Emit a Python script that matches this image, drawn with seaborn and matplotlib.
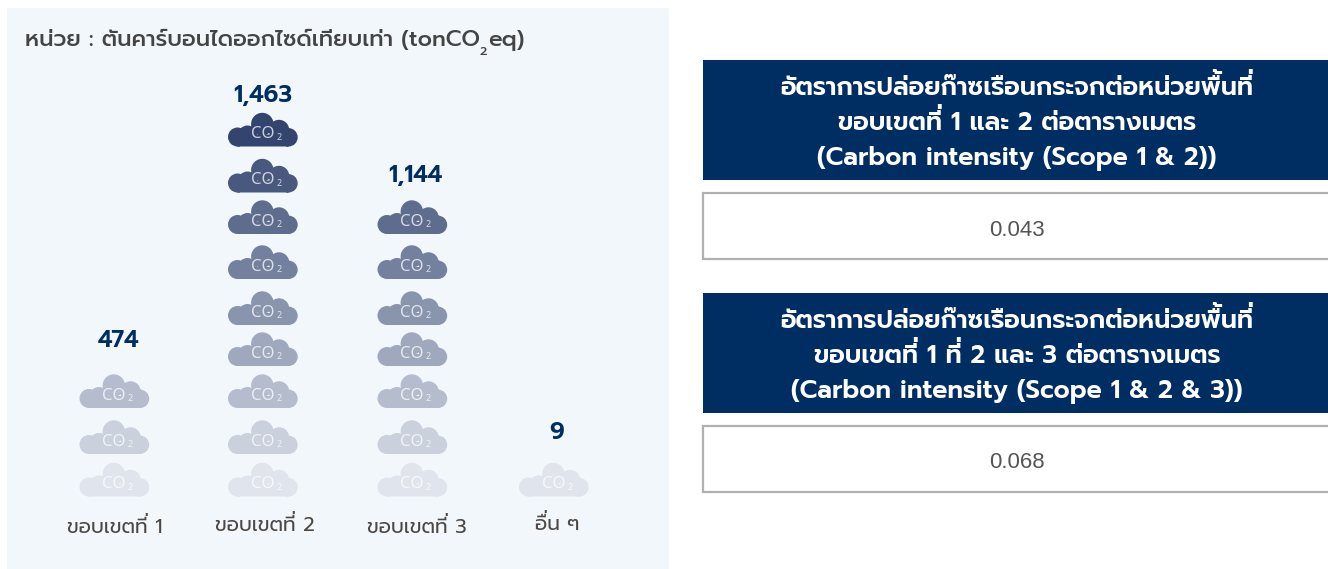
import re
import numpy as np
import pandas as pd
import seaborn as sns
import matplotlib.pyplot as plt
from matplotlib.path import Path
from matplotlib.patches import Rectangle

# -------------------------
# Data
# -------------------------
categories = ["ขอบเขตที่ 1", "ขอบเขตที่ 2", "ขอบเขตที่ 3", "อื่น ๆ"]
emissions = [474, 1463, 1144, 9]
cloud_counts = [3, 9, 7, 1]

unit_text = "หน่วย : ตันคาร์บอนไดออกไซด์เทียบเท่า (tonCO"
unit_tail = "eq)"
box_titles = [
    ["อัตราการปล่อยก๊าซเรือนกระจกต่อหน่วยพื้นที่", "ขอบเขตที่ 1 และ 2 ต่อตารางเมตร", "(Carbon intensity (Scope 1 & 2))"],
    ["อัตราการปล่อยก๊าซเรือนกระจกต่อหน่วยพื้นที่", "ขอบเขตที่ 1 ที่ 2 และ 3 ต่อตารางเมตร", "(Carbon intensity (Scope 1 & 2 & 3))"],
]
box_values = ["0.043", "0.068"]

# -------------------------
# Layout (pixels in the picture)
# -------------------------
W, H = 1328, 569
NAVY = "#002d62"
column_px = [7, 114.5, 263, 412.5, 554, 669]
row_px = [569, 479.5, 437, 391, 349, 308, 262, 217, 175.5, 129.5, 8]
value_gap = [50, 34, 41, 47]
value_dx = [4, 0, 3, 3]
label_dx = [0.5, 2, 4.5, 3]
label_base = [533, 531, 533, 530]

sns.set_theme(style="white")
plt.rcParams["font.family"] = ["Prompt", "Noto Sans Thai", "DejaVu Sans"]

fig = plt.figure(figsize=(W / 100, H / 100), dpi=100)
renderer = fig.canvas.get_renderer()


def fx(px):
    return px / W


def fy(py):
    return 1 - py / H


# matplotlib does not shape Thai, so a tone mark on top of an upper vowel
# would sit inside the vowel. Those marks get drawn separately, a bit higher.
STACKED = re.compile("([\u0e31\u0e34-\u0e37])([\u0e48-\u0e4b])")


def text_width(s, **kw):
    t = fig.text(0, 0, s, **kw)
    w = t.get_window_extent(renderer).width
    t.remove()
    return w


def thai_text(x, base, s, center=False, **kw):
    plain = STACKED.sub(r"\1", s)
    left = x - text_width(plain, **kw) / 2 if center else x
    fig.text(fx(left), fy(base), plain, va="baseline", **kw)
    for m in STACKED.finditer(s):
        before = STACKED.sub(r"\1", s[:m.start(2)])
        lift = kw["fontsize"] * 0.33
        # the no-break space gives the zero-width mark a real text box
        fig.text(fx(left + text_width(before, **kw)), fy(base - lift), m.group(2) + "\u00a0", va="baseline", **kw)
    return left + text_width(plain, **kw)


# -------------------------
# Cloud marker
# -------------------------
lobes = [(-25.5, -7.5, 9.5), (-15.5, -5.5, 9.5), (-0.7, 5.5, 11.2), (16, -0.5, 10.2), (25.5, -7.8, 9.2)]
parts = [Path.circle((cx, cy), r) for cx, cy, r in lobes]
parts.append(Path([(-25.5, -17), (25.5, -17), (25.5, -5), (-25.5, -5), (-25.5, -17)], closed=True))
cloud = Path.make_compound_path(*parts)
cloud_size = (70 * 0.72) ** 2

# -------------------------
# Left panel
# -------------------------
ax = fig.add_axes([fx(7), fy(569), fx(662), fy(8) - fy(569)])
ax.set_facecolor("#f2f7fb")

rows = pd.DataFrame(
    [(cat, r) for cat, n in zip(categories, cloud_counts) for r in range(n)],
    columns=["category", "row"],
)
row_colors = dict(enumerate(sns.blend_palette(["#e0e4ec", "#33456f"], 9)))

sns.scatterplot(
    data=rows, x="category", y="row", hue="row", palette=row_colors,
    marker=cloud, s=cloud_size, linewidth=0, legend=False, ax=ax, clip_on=False,
)

# columns and rows are not quite evenly spaced in the picture
col_pos = np.array([-0.734, 0, 1, 2, 3, 3.785])
row_pos = np.array([-2.03, 0, 1, 2, 3, 4, 5, 6, 7, 8, 10.78])
col_out = np.array(column_px, dtype=float)
row_out = -np.array(row_px, dtype=float)
ax.set_xscale("function", functions=(lambda v: np.interp(v, col_pos, col_out),
                                     lambda v: np.interp(v, col_out, col_pos)))
ax.set_yscale("function", functions=(lambda v: np.interp(v, row_pos, row_out),
                                     lambda v: np.interp(v, row_out, row_pos)))
ax.set_xlim(col_pos[0], col_pos[-1])
ax.set_ylim(row_pos[0], row_pos[-1])
ax.set_xlabel("")
ax.set_ylabel("")
ax.set_xticks([])
ax.set_yticks([])
ax.minorticks_off()
sns.despine(ax=ax, left=True, bottom=True)

# CO2 lettering inside each cloud
for _, rw in rows.iterrows():
    x = categories.index(rw["category"])
    ax.annotate("CO", (x, rw["row"]), xytext=(-0.5, -3.6), textcoords="offset points", family="Noto Sans",
                ha="center", va="center", fontsize=12, color="white", alpha=0.75)
    ax.annotate("2", (x, rw["row"]), xytext=(11.5, -5.5), textcoords="offset points", family="Noto Sans",
                ha="center", va="center", fontsize=6.5, color="white", alpha=0.75)

for i, val in enumerate(emissions):
    ax.annotate(f"{val:,}", (i, cloud_counts[i] - 1),
                xytext=(value_dx[i] * 0.72, value_gap[i] * 0.72), textcoords="offset points",
                ha="center", va="center", fontsize=17, fontweight="semibold", color=NAVY)
    center = ax.transData.transform((i, 0))[0] + label_dx[i]
    thai_text(center, label_base[i], categories[i], center=True, fontsize=14.5, color="#4d4843")

title_kw = dict(fontsize=16.2, fontweight="medium", color="#444444")
end = thai_text(25, 46, unit_text, **title_kw)
fig.text(fx(end), fy(55), "2", va="baseline", fontsize=9, fontweight="medium", color="#444444")
fig.text(fx(end + 8), fy(46), unit_tail, va="baseline", **title_kw)

# -------------------------
# Right boxes
# -------------------------
for top, lines, value in zip([60, 293], box_titles, box_values):
    fig.patches.append(Rectangle((fx(703), fy(top + 120)), fx(625), fy(top) - fy(top + 120),
                                 transform=fig.transFigure, facecolor=NAVY, edgecolor="none"))
    for k, line in enumerate(lines):
        thai_text(1017, top + 35 + 35 * k, line, center=True, fontsize=18.2, fontweight="semibold", color="white")
    fig.patches.append(Rectangle((fx(703), fy(top + 199)), fx(640), fy(top + 133) - fy(top + 199),
                                 transform=fig.transFigure, facecolor="white", edgecolor="#b0b0b0", linewidth=1.6))
    fig.text(fx(1017), fy(top + 170), value, ha="center", va="center", fontsize=16,
             family="Liberation Sans", color="#555555")

fig.savefig("out.png", dpi=100)
